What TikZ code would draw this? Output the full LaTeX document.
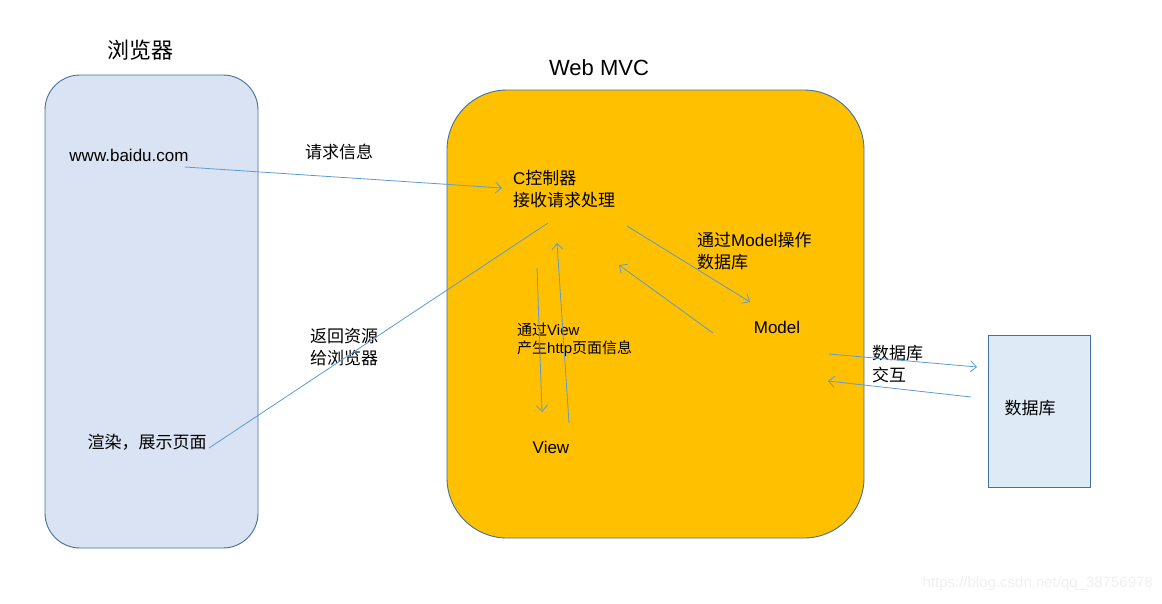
\documentclass[tikz,border=0pt]{standalone}
\usepackage{fontspec}
\setmainfont{Liberation Sans}
\newfontfamily\cjk{Noto Sans CJK SC}
\usetikzlibrary{arrows.meta}
\definecolor{browserfill}{HTML}{DAE3F3}
\definecolor{dbfill}{HTML}{DEEBF7}
\definecolor{boxedge}{HTML}{41719C}
\definecolor{mvcfill}{HTML}{FFC000}
\definecolor{flowline}{HTML}{5B9BD5}
\definecolor{markgray}{HTML}{EFEFEF}
\tikzset{
  panel/.style={draw=boxedge,line width=0.9pt,inner sep=0pt},
  txt/.style={font=\fontsize{17}{22}\selectfont,align=left,inner sep=0pt},
  smalltxt/.style={font=\fontsize{15}{18}\selectfont,align=left,inner sep=0pt},
  head/.style={font=\fontsize{22}{26}\selectfont,inner sep=0pt},
  flow/.style={draw=flowline,line width=0.8pt},
  flowarr/.style={flow,-{Straight Barb[length=6pt,width=11pt]}}
}
\begin{document}
\begin{tikzpicture}[x=1pt,y=-1pt]
        \useasboundingbox (0,0) rectangle (1162,603);
        % boxes
        \node[panel,fill=browserfill,rounded corners=35pt,minimum width=213pt,minimum height=473pt] (browser) at (151.5,311.5) {};
        \node[panel,fill=mvcfill,rounded corners=60pt,minimum width=417pt,minimum height=448pt] (mvc) at (655.5,314) {};
        \node[panel,fill=dbfill,minimum width=102pt,minimum height=152pt] (dbbox) at (1039,411) {};
        % titles
        \node[head] (browsertitle) at (140,50) {\cjk 浏览器};
        \node[head] (mvctitle) at (599,68) {Web MVC};
        % texts
        \node[txt] (url) at (129,155) {www.baidu.com};
        \node[txt] (render) at (147,442) {\cjk 渲染，展示页面};
        \node[txt] (reqinfo) at (339,152) {\cjk 请求信息};
        \node[txt,anchor=west] (ctrl) at (513,189) {C{\cjk 控制器}\\{\cjk 接收请求处理}};
        \node[txt,anchor=west] (viamodel) at (697,251) {{\cjk 通过}Model{\cjk 操作}\\{\cjk 数据库}};
        \node[txt] (model) at (777,327) {Model};
        \node[smalltxt,anchor=west] (viaview) at (517,340) {{\cjk 通过}View\\{\cjk 产生}http{\cjk 页面信息}};
        \node[txt] (view) at (551,447) {View};
        \node[txt,anchor=west] (back) at (310,347) {{\cjk 返回资源}\\{\cjk 给浏览器}};
        \node[txt,anchor=west] (dbtalk) at (872,364) {{\cjk 数据库}\\{\cjk 交互}};
        \node[txt] (dblabel) at (1030,408) {\cjk 数据库};
        \node[smalltxt,text=markgray,anchor=east] (mark) at (1153,584) {https://blog.csdn.net/qq\_38756978};
        % connector ends
        \coordinate (urlend) at (185,167);
        \coordinate (ctrlin) at (502,188);
        \coordinate (ctrlback) at (548,223);
        \coordinate (renderend) at (209,448);
        \coordinate (ctrlout) at (627,226);
        \coordinate (modelin) at (750,302);
        \coordinate (modelout) at (713,333);
        \coordinate (ctrlret) at (619,265);
        \coordinate (viewdownA) at (537,268);
        \coordinate (viewdownB) at (542,412);
        \coordinate (viewupA) at (569,423);
        \coordinate (viewupB) at (557,243);
        \coordinate (dbgoA) at (829,354);
        \coordinate (dbgoB) at (977,367);
        \coordinate (dbbackA) at (971,397);
        \coordinate (dbbackB) at (828,381);
        % connectors
        \draw[flowarr] (urlend) -- (ctrlin);
        \draw[flow] (ctrlback) -- (renderend);
        \draw[flowarr] (ctrlout) -- (modelin);
        \draw[flowarr] (modelout) -- (ctrlret);
        \draw[flowarr] (viewdownA) -- (viewdownB);
        \draw[flowarr] (viewupA) -- (viewupB);
        \draw[flowarr] (dbgoA) -- (dbgoB);
        \draw[flowarr] (dbbackA) -- (dbbackB);
    \end{tikzpicture}
\end{document}
